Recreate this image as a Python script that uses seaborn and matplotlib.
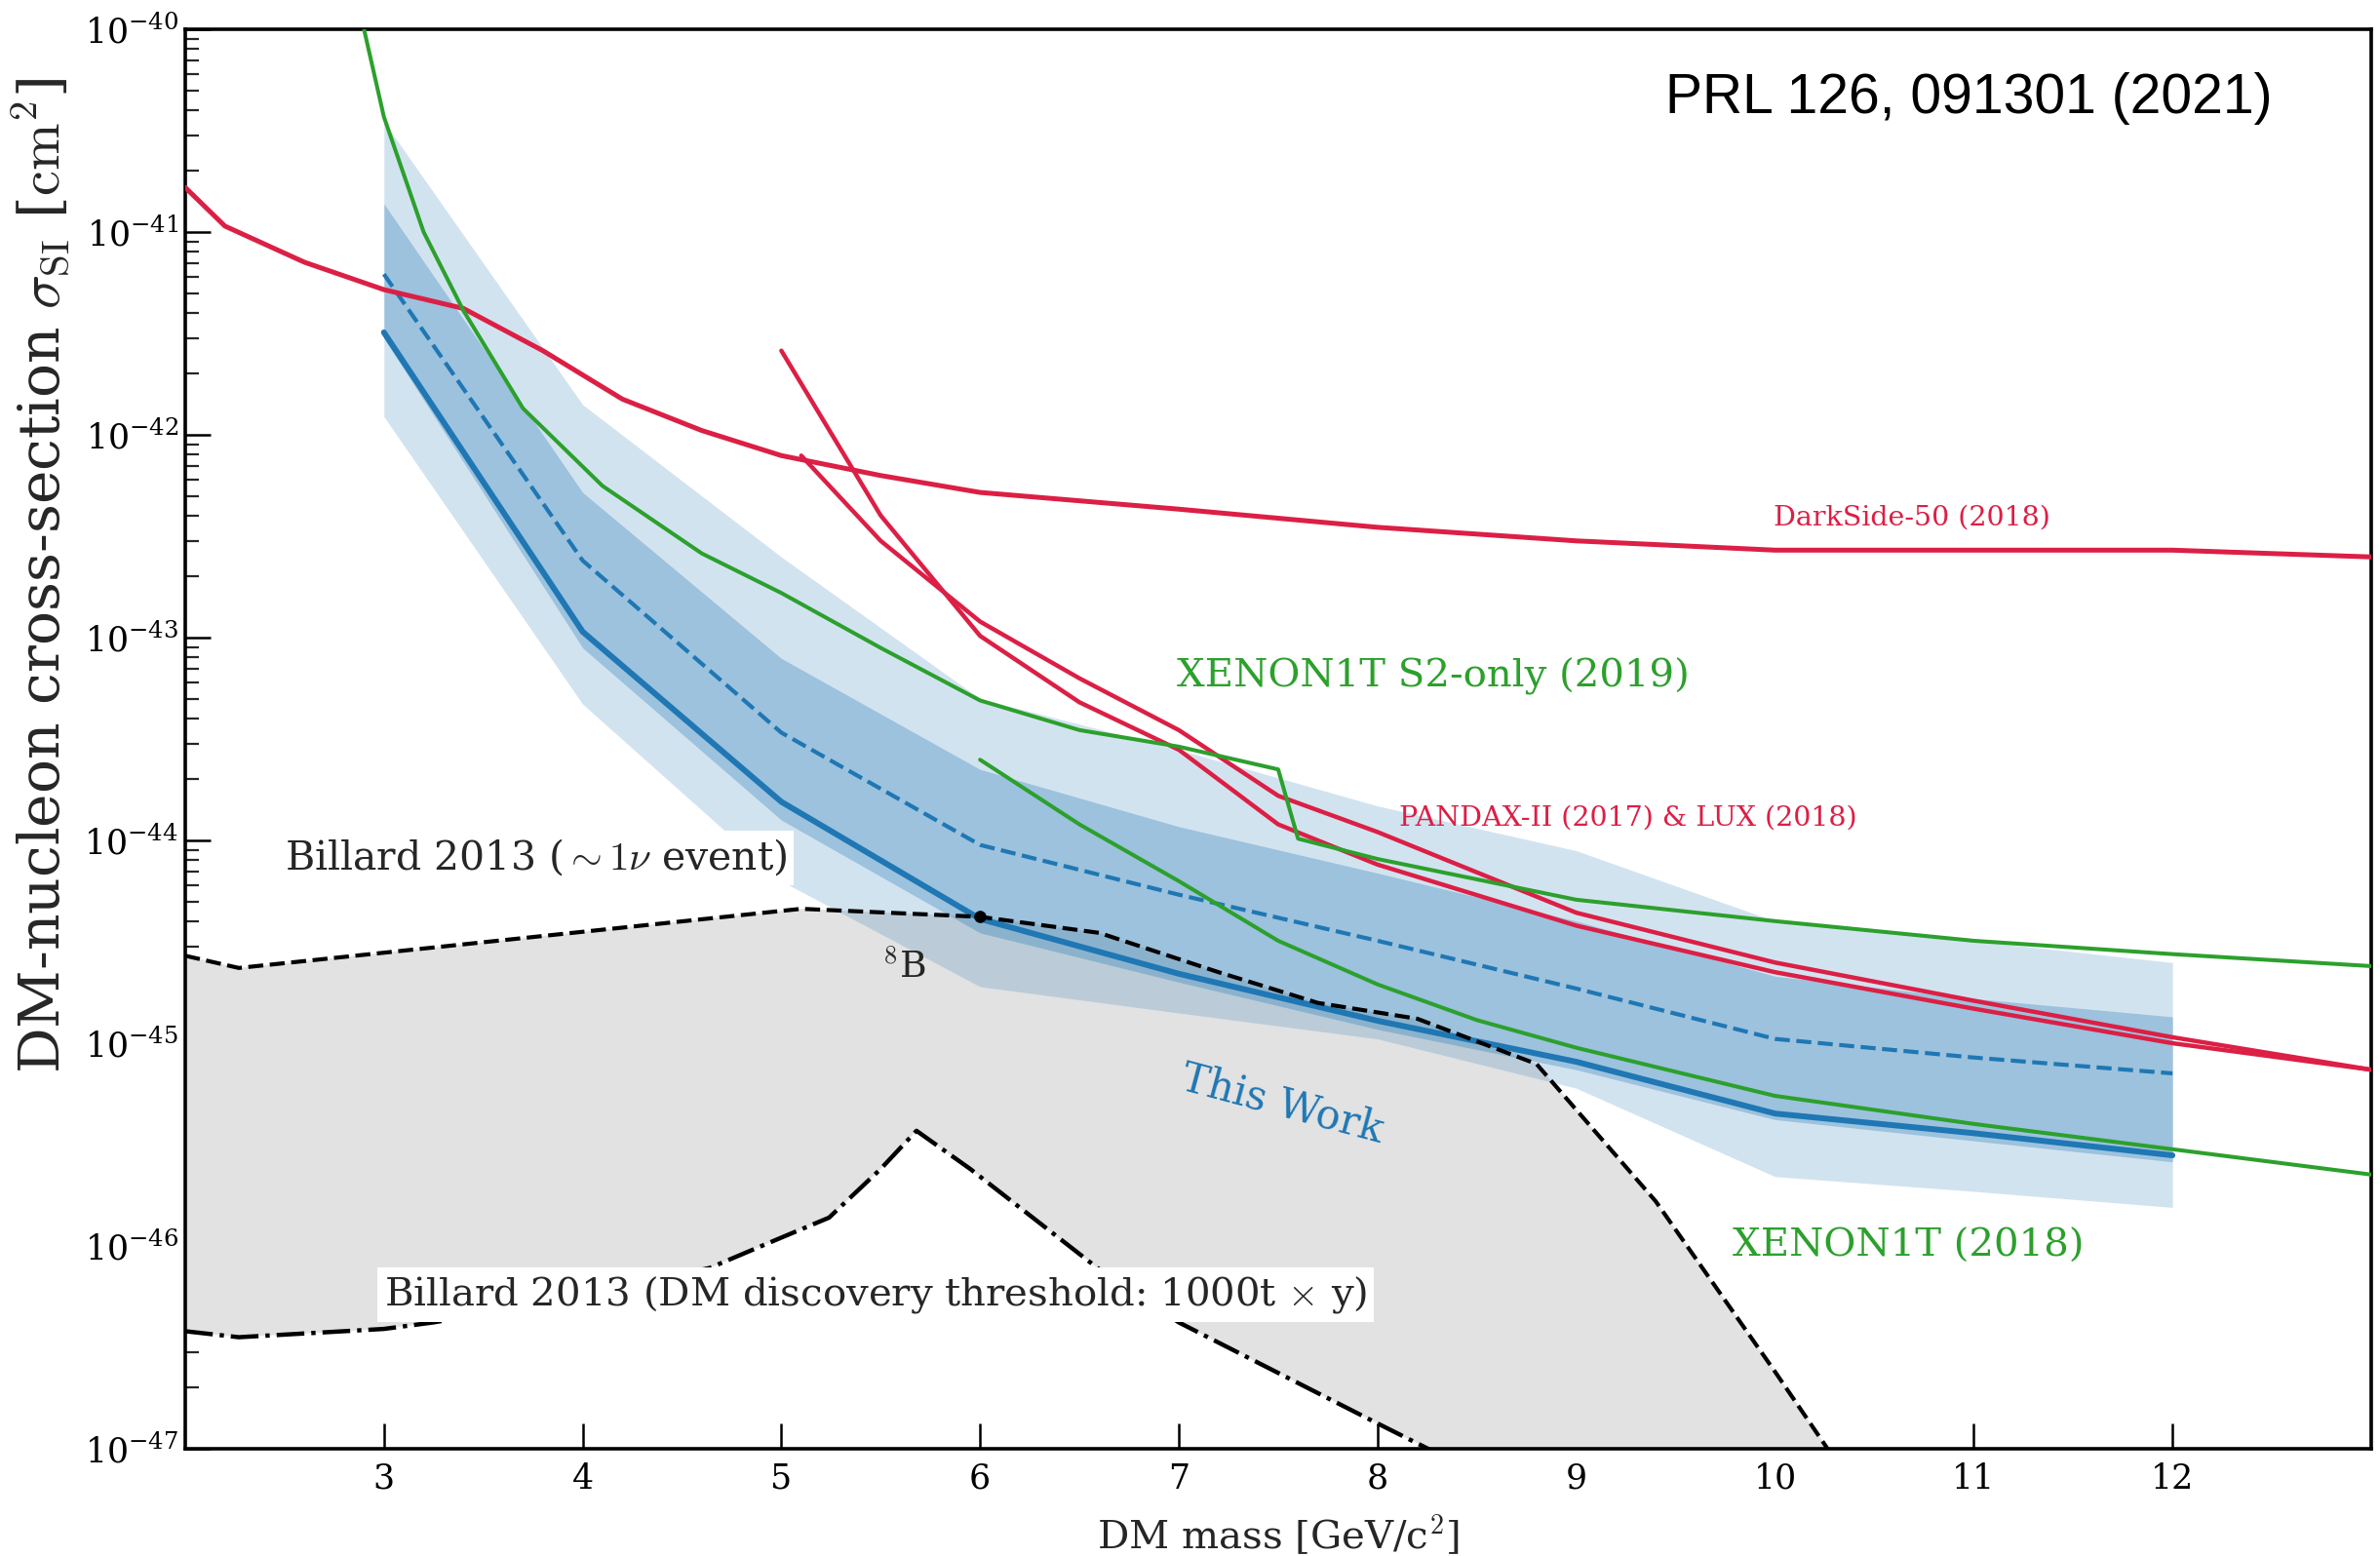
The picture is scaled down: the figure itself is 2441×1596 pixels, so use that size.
import numpy as np
import matplotlib
matplotlib.use("Agg")
import matplotlib.pyplot as plt
import seaborn as sns

# ---------------- data ----------------
# DarkSide-50 (2018)
ds_mass = [2.0, 2.2, 2.6, 3.0, 3.4, 3.8, 4.2, 4.6, 5.0, 5.5, 6.0, 7.0, 8.0, 9.0, 10.0, 11.0, 12.0, 13.0]
ds_xsec = [1.66e-41, 1.07e-41, 7.1e-42, 5.2e-42, 4.2e-42, 2.6e-42, 1.5e-42, 1.05e-42, 7.9e-43,
           6.3e-43, 5.2e-43, 4.3e-43, 3.5e-43, 3.0e-43, 2.7e-43, 2.7e-43, 2.7e-43, 2.5e-43]

# XENON1T S2-only (2019)
s2_mass = [2.9, 3.0, 3.2, 3.4, 3.7, 4.1, 4.6, 5.0, 5.5, 6.0, 6.5, 7.0, 7.5, 7.6, 8.0, 9.0, 10.0, 11.0, 12.0, 13.0]
s2_xsec = [1.0e-40, 3.7e-41, 1.0e-41, 4.1e-42, 1.35e-42, 5.6e-43, 2.6e-43, 1.66e-43, 8.9e-44, 4.9e-44,
           3.5e-44, 2.9e-44, 2.24e-44, 1.02e-44, 8.1e-45, 5.1e-45, 4.0e-45, 3.2e-45, 2.75e-45, 2.4e-45]

# XENON1T (2018)
x1t_mass = [6.0, 6.5, 7.0, 7.5, 8.0, 8.5, 9.0, 10.0, 11.0, 12.0, 13.0]
x1t_xsec = [2.5e-44, 1.2e-44, 6.3e-45, 3.2e-45, 1.95e-45, 1.3e-45, 9.5e-46, 5.5e-46, 4.0e-46, 3.0e-46, 2.25e-46]

# PandaX-II (2017)
px_mass = [5.0, 5.5, 6.0, 6.5, 7.0, 7.5, 8.0, 9.0, 10.0, 11.0, 12.0, 13.0]
px_xsec = [2.6e-42, 4.0e-43, 1.02e-43, 4.8e-44, 2.8e-44, 1.2e-44, 7.6e-45, 3.8e-45, 2.24e-45,
           1.48e-45, 1.0e-45, 7.4e-46]

# LUX (2018)
lux_mass = [5.1, 5.5, 6.0, 6.5, 7.0, 7.5, 8.0, 9.0, 10.0, 11.0, 12.0, 13.0]
lux_xsec = [7.9e-43, 3.0e-43, 1.2e-43, 6.3e-44, 3.5e-44, 1.66e-44, 1.1e-44, 4.4e-45, 2.5e-45,
            1.62e-45, 1.07e-45, 7.4e-46]

# This work
tw_mass = [3, 4, 5, 6, 7, 8, 9, 10, 11, 12]
tw_limit = [3.2e-42, 1.07e-43, 1.55e-44, 4.1e-45, 2.2e-45, 1.29e-45, 8.1e-46, 4.5e-46, 3.6e-46, 2.8e-46]
tw_median = [6.2e-42, 2.4e-43, 3.4e-44, 9.5e-45, 5.4e-45, 3.2e-45, 1.86e-45, 1.05e-45, 8.5e-46, 7.1e-46]
tw_1s_hi = [1.38e-41, 5.2e-43, 7.9e-44, 2.24e-44, 1.17e-44, 6.9e-45, 4.0e-45, 2.14e-45, 1.66e-45, 1.35e-45]
tw_1s_lo = [3.0e-42, 8.9e-44, 1.26e-44, 3.5e-45, 2.0e-45, 1.17e-45, 7.4e-46, 4.2e-46, 3.3e-46, 2.6e-46]
tw_2s_hi = [3.5e-41, 1.41e-42, 2.5e-43, 5.0e-44, 2.8e-44, 1.48e-44, 8.9e-45, 4.0e-45, 3.2e-45, 2.5e-45]
tw_2s_lo = [1.23e-42, 4.7e-44, 6.3e-45, 1.9e-45, 1.41e-45, 1.05e-45, 6.0e-46, 2.2e-46, 1.86e-46, 1.55e-46]

# Billard 2013 neutrino floor (~1 nu event)
nu_mass = [2.0, 2.27, 5.1, 6.0, 6.6, 7.2, 7.7, 8.2, 8.8, 9.4, 10.0, 10.3]
nu_xsec = [2.7e-45, 2.35e-45, 4.6e-45, 4.2e-45, 3.5e-45, 2.24e-45, 1.58e-45, 1.32e-45, 7.9e-46,
           1.66e-46, 2.4e-47, 8.9e-48]

# Billard 2013 DM discovery threshold (1000 t x y)
dd_mass = [2.0, 2.27, 3.0, 3.25, 4.0, 4.64, 5.0, 5.24, 5.5, 5.68, 5.95, 6.59, 7.0, 7.97, 8.3]
dd_xsec = [3.8e-47, 3.55e-47, 3.9e-47, 4.2e-47, 5.6e-47, 7.8e-47, 1.1e-46, 1.38e-46, 2.4e-46,
           3.7e-46, 2.4e-46, 7.8e-47, 4.2e-47, 1.38e-47, 9.5e-48]

b8_mass = [6.0]
b8_xsec = [4.2e-45]

x_ticks = [3, 4, 5, 6, 7, 8, 9, 10, 11, 12]
y_ticks = [1e-47, 1e-46, 1e-45, 1e-44, 1e-43, 1e-42, 1e-41, 1e-40]

# ---------------- style ----------------
sns.set_style("ticks")
plt.rcParams['font.family'] = ['DejaVu Serif']
plt.rcParams['mathtext.fontset'] = 'cm'
plt.rcParams['axes.edgecolor'] = 'black'
plt.rcParams['axes.linewidth'] = 2.6

RED = '#dc1f45'
GREEN = '#2ca02c'
BLUE = '#1f77b4'
GRAY = '#e2e2e2'

fig = plt.figure(figsize=(24.41, 15.96), dpi=100)
ax = fig.add_axes([0.0778, 0.0689, 0.9185, 0.9123])
ax.set_yscale('log')
ax.set_xlim(2, 13)
ax.set_ylim(1e-47, 1e-40)

# gray region between neutrino floor and discovery threshold
ax.fill(np.concatenate([nu_mass, dd_mass[::-1]]),
        np.concatenate([nu_xsec, dd_xsec[::-1]]),
        color=GRAY, lw=0, zorder=1)

# bands
ax.fill_between(tw_mass, tw_2s_lo, tw_2s_hi, color=BLUE, alpha=0.2, lw=0, zorder=2)
ax.fill_between(tw_mass, tw_1s_lo, tw_1s_hi, color=BLUE, alpha=0.3, lw=0, zorder=3)

# lines
sns.lineplot(x=ds_mass, y=ds_xsec, ax=ax, color=RED, lw=3.6, zorder=5)
sns.lineplot(x=px_mass, y=px_xsec, ax=ax, color=RED, lw=3.2, zorder=5)
sns.lineplot(x=lux_mass, y=lux_xsec, ax=ax, color=RED, lw=3.2, zorder=5)
sns.lineplot(x=s2_mass, y=s2_xsec, ax=ax, color=GREEN, lw=2.9, zorder=5)
sns.lineplot(x=x1t_mass, y=x1t_xsec, ax=ax, color=GREEN, lw=2.9, zorder=5)
sns.lineplot(x=tw_mass, y=tw_median, ax=ax, color=BLUE, lw=3.0, linestyle='--', zorder=4)
sns.lineplot(x=tw_mass, y=tw_limit, ax=ax, color=BLUE, lw=4.3, zorder=4)
sns.lineplot(x=nu_mass, y=nu_xsec, ax=ax, color='black', lw=3.0, linestyle='--', zorder=4)
sns.lineplot(x=dd_mass, y=dd_xsec, ax=ax, color='black', lw=3.2, linestyle='-.', zorder=4)
sns.scatterplot(x=b8_mass, y=b8_xsec, ax=ax, color='black', s=70, zorder=7, edgecolor='black')

# ---------------- texts ----------------
box = dict(facecolor='white', edgecolor='none', pad=5)
ax.text(2.5, 10**-44.085, r'Billard 2013 ($\sim 1\nu$ event)', fontsize=29.5, ha='left',
        va='center', bbox=box, zorder=8)
ax.text(3.0, 10**-46.24, r'Billard 2013 (DM discovery threshold: 1000t $\times$ y)', fontsize=29,
        ha='left', va='center', bbox=box, zorder=8)
ax.text(8.28, 10**-43.19, 'XENON1T S2-only (2019)', fontsize=29, color=GREEN, ha='center', va='center', zorder=8)
ax.text(10.67, 10**-46.0, 'XENON1T (2018)', fontsize=29, color=GREEN, ha='center', va='center', zorder=8)
ax.text(9.26, 10**-43.89, 'PANDAX-II (2017) & LUX (2018)', fontsize=20.5, color=RED, ha='center', va='center', zorder=8)
ax.text(10.69, 10**-42.41, 'DarkSide-50 (2018)', fontsize=20.5, color=RED, ha='center', va='center', zorder=8)
ax.text(7.52, 10**-45.30, 'This Work', fontsize=30, color=BLUE, ha='center', va='center',
        rotation=-15, rotation_mode='anchor', zorder=8)
ax.text(5.62, 10**-44.63, r'$^{8}$B', fontsize=27, ha='center', va='center', zorder=8)
ax.text(0.816, 0.951, 'PRL 126, 091301 (2021)', transform=ax.transAxes, fontsize=41,
        family=['Liberation Sans', 'DejaVu Sans'], color='black', ha='center', va='center', zorder=8)

# ---------------- axes ----------------
ax.set_xticks(x_ticks)
ax.set_xticklabels([str(t) for t in x_ticks])
ax.set_yticks(y_ticks)
ax.set_ylim(1e-47, 1e-40)
ax.tick_params(axis='both', which='major', direction='in', length=19, width=1.8, labelsize=25,
               top=False, right=False, colors='black')
ax.tick_params(axis='y', which='minor', direction='in', length=10, width=1.6, right=False)
ax.tick_params(axis='x', which='minor', bottom=False, top=False)
ax.tick_params(axis='y', which='major', pad=5)
ax.tick_params(axis='x', which='major', pad=10)
for s in ax.spines.values():
    s.set_visible(True)
    s.set_linewidth(2.6)
    s.set_color('black')

ax.set_xlabel(r'DM mass [GeV/c$^2$]', fontsize=29)
ax.xaxis.set_label_coords(0.5, -0.045)
ax.set_ylabel(r'DM-nucleon cross-section $\sigma_{\rm SI}$ [$\rm cm^2$]', fontsize=42)
ax.yaxis.set_label_coords(-0.052, 0.615)

fig.savefig('out.png', dpi=100, facecolor='white')
